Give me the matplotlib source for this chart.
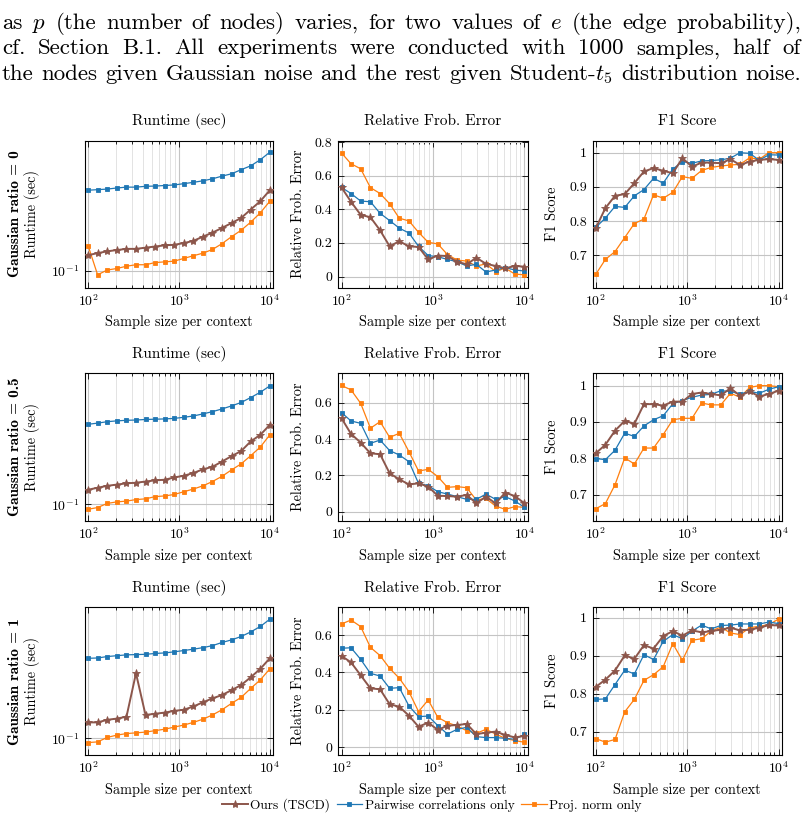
"""Runtime / relative Frobenius error / F1 vs. sample size, three Gaussian ratios."""

import matplotlib

matplotlib.use("Agg")
import matplotlib.pyplot as plt
from matplotlib.lines import Line2D
from matplotlib.ticker import (
    FuncFormatter,
    LogFormatterSciNotation,
    LogLocator,
    MultipleLocator,
    NullFormatter,
    NullLocator,
)

plt.rcParams.update(
    {
        "font.family": "serif",
        "font.serif": ["cmr10"],
        "mathtext.fontset": "cm",
        "axes.formatter.use_mathtext": True,
    }
)

W, H = 805, 819

SAMPLE_SIZES = [100, 127, 162, 207, 264, 336, 428, 546, 695, 886,
                1129, 1438, 1833, 2336, 2976, 3793, 4833, 6158, 7848, 10000]

RATIO_LABELS = ["0", "0.5", "1"]
METRIC_TITLES = ["Runtime (sec)", "Relative Frob. Error", "F1 Score"]
SERIES_NAMES = ["Ours (TSCD)", "Pairwise correlations only", "Proj. norm only"]

# runtime (sec)
RT0_OURS = [0.122, 0.125, 0.128, 0.130, 0.132, 0.132, 0.134, 0.136, 0.138, 0.139,
            0.142, 0.146, 0.154, 0.162, 0.172, 0.183, 0.195, 0.217, 0.241, 0.277]
RT0_PAIR = [0.277, 0.279, 0.281, 0.285, 0.288, 0.288, 0.291, 0.292, 0.294, 0.296,
            0.301, 0.306, 0.312, 0.320, 0.331, 0.341, 0.359, 0.377, 0.407, 0.448]
RT0_PROJ = [0.137, 0.0951, 0.101, 0.103, 0.106, 0.108, 0.108, 0.111, 0.112, 0.113,
            0.117, 0.121, 0.125, 0.131, 0.141, 0.154, 0.167, 0.185, 0.208, 0.241]
RT1_OURS = [0.120, 0.123, 0.126, 0.128, 0.130, 0.131, 0.133, 0.135, 0.136, 0.140,
            0.143, 0.148, 0.155, 0.160, 0.171, 0.183, 0.195, 0.220, 0.239, 0.271]
RT1_PAIR = [0.273, 0.277, 0.282, 0.285, 0.287, 0.288, 0.290, 0.291, 0.292, 0.294,
            0.298, 0.303, 0.311, 0.320, 0.331, 0.344, 0.359, 0.382, 0.408, 0.442]
RT1_PROJ = [0.0939, 0.0959, 0.101, 0.103, 0.104, 0.106, 0.107, 0.110, 0.111, 0.113,
            0.117, 0.121, 0.126, 0.133, 0.142, 0.154, 0.166, 0.184, 0.205, 0.239]
RT2_OURS = [0.122, 0.122, 0.126, 0.128, 0.131, 0.226, 0.134, 0.136, 0.138, 0.141,
            0.143, 0.149, 0.157, 0.165, 0.172, 0.183, 0.195, 0.215, 0.239, 0.273]
RT2_PAIR = [0.273, 0.274, 0.279, 0.282, 0.285, 0.286, 0.287, 0.290, 0.292, 0.296,
            0.301, 0.306, 0.312, 0.320, 0.333, 0.344, 0.359, 0.380, 0.407, 0.446]
RT2_PROJ = [0.0947, 0.0955, 0.101, 0.104, 0.106, 0.107, 0.108, 0.110, 0.112, 0.115,
            0.118, 0.122, 0.127, 0.134, 0.143, 0.155, 0.167, 0.187, 0.208, 0.239]

# relative Frobenius error
FE0_OURS = [0.530, 0.445, 0.367, 0.353, 0.275, 0.180, 0.210, 0.180, 0.176, 0.102,
            0.125, 0.122, 0.088, 0.073, 0.112, 0.076, 0.063, 0.049, 0.063, 0.059]
FE0_PAIR = [0.530, 0.494, 0.449, 0.445, 0.376, 0.333, 0.288, 0.259, 0.180, 0.125,
            0.118, 0.102, 0.088, 0.063, 0.073, 0.027, 0.039, 0.053, 0.039, 0.033]
FE0_PROJ = [0.735, 0.671, 0.641, 0.529, 0.494, 0.433, 0.347, 0.331, 0.263, 0.204,
            0.194, 0.131, 0.098, 0.092, 0.063, 0.075, 0.030, 0.050, 0.015, 0.010]
FE1_OURS = [0.514, 0.428, 0.380, 0.321, 0.316, 0.211, 0.178, 0.150, 0.156, 0.138,
            0.088, 0.086, 0.083, 0.092, 0.046, 0.083, 0.046, 0.105, 0.086, 0.046]
FE1_PAIR = [0.545, 0.499, 0.486, 0.376, 0.394, 0.336, 0.312, 0.275, 0.156, 0.143,
            0.110, 0.097, 0.083, 0.068, 0.068, 0.097, 0.068, 0.083, 0.059, 0.024]
FE1_PROJ = [0.694, 0.670, 0.596, 0.459, 0.495, 0.409, 0.431, 0.330, 0.224, 0.233,
            0.193, 0.134, 0.138, 0.132, 0.064, 0.073, 0.031, 0.013, 0.028, 0.024]
FE2_OURS = [0.488, 0.454, 0.385, 0.315, 0.310, 0.230, 0.217, 0.169, 0.110, 0.132,
            0.093, 0.116, 0.119, 0.125, 0.071, 0.078, 0.084, 0.066, 0.053, 0.061]
FE2_PAIR = [0.529, 0.532, 0.470, 0.395, 0.381, 0.315, 0.319, 0.221, 0.164, 0.167,
            0.116, 0.071, 0.096, 0.107, 0.057, 0.052, 0.052, 0.048, 0.043, 0.069]
FE2_PROJ = [0.659, 0.680, 0.645, 0.534, 0.490, 0.422, 0.369, 0.297, 0.191, 0.253,
            0.160, 0.132, 0.114, 0.089, 0.075, 0.096, 0.071, 0.048, 0.036, 0.027]

# F1 score
F10_OURS = [0.780, 0.838, 0.874, 0.879, 0.911, 0.945, 0.955, 0.947, 0.940, 0.984,
            0.959, 0.971, 0.971, 0.969, 0.981, 0.964, 0.974, 0.979, 0.981, 0.979]
F10_PAIR = [0.782, 0.809, 0.843, 0.840, 0.874, 0.892, 0.925, 0.911, 0.952, 0.974,
            0.969, 0.976, 0.977, 0.979, 0.984, 1.000, 0.998, 0.978, 0.994, 0.993]
F10_PROJ = [0.645, 0.688, 0.711, 0.752, 0.793, 0.806, 0.877, 0.867, 0.884, 0.930,
            0.925, 0.948, 0.957, 0.961, 0.964, 0.966, 0.985, 0.981, 1.000, 1.000]
F11_OURS = [0.814, 0.837, 0.876, 0.903, 0.895, 0.949, 0.949, 0.945, 0.956, 0.956,
            0.977, 0.981, 0.977, 0.973, 0.993, 0.972, 0.984, 0.970, 0.977, 0.986]
F11_PAIR = [0.799, 0.796, 0.822, 0.869, 0.860, 0.889, 0.906, 0.917, 0.950, 0.959,
            0.968, 0.974, 0.976, 0.986, 0.984, 0.977, 0.984, 0.979, 0.990, 0.997]
F11_PROJ = [0.661, 0.675, 0.727, 0.801, 0.784, 0.828, 0.828, 0.865, 0.906, 0.910,
            0.910, 0.952, 0.947, 0.947, 0.979, 0.968, 0.995, 1.000, 1.000, 0.997]
F12_OURS = [0.818, 0.837, 0.861, 0.901, 0.892, 0.928, 0.919, 0.952, 0.965, 0.953,
            0.967, 0.962, 0.965, 0.969, 0.974, 0.967, 0.969, 0.974, 0.981, 0.980]
F12_PAIR = [0.785, 0.786, 0.824, 0.862, 0.852, 0.903, 0.890, 0.938, 0.956, 0.945,
            0.965, 0.981, 0.971, 0.980, 0.981, 0.984, 0.984, 0.984, 0.989, 0.985]
F12_PROJ = [0.681, 0.672, 0.679, 0.752, 0.785, 0.835, 0.850, 0.871, 0.932, 0.888,
            0.941, 0.945, 0.965, 0.976, 0.960, 0.956, 0.974, 0.978, 0.982, 0.997]

CAPTION_LINES = [
    "as $p$ (the number of nodes) varies, for two values of $e$ (the edge probability),",
    "cf. Section B.1. All experiments were conducted with 1000 samples, half of",
    "the nodes given Gaussian noise and the rest given Student-$t_5$ distribution noise.",
]
CAPTION_BASELINES = [29, 54.5, 80]

# panel grid [row][col] -> (ours, pairwise, proj)
PANELS = [
    [(RT0_OURS, RT0_PAIR, RT0_PROJ), (FE0_OURS, FE0_PAIR, FE0_PROJ), (F10_OURS, F10_PAIR, F10_PROJ)],
    [(RT1_OURS, RT1_PAIR, RT1_PROJ), (FE1_OURS, FE1_PAIR, FE1_PROJ), (F11_OURS, F11_PAIR, F11_PROJ)],
    [(RT2_OURS, RT2_PAIR, RT2_PROJ), (FE2_OURS, FE2_PAIR, FE2_PROJ), (F12_OURS, F12_PAIR, F12_PROJ)],
]

# layout (pixels) and styling
COL_LEFT = [85, 338.3, 592.7]
COL_RIGHT = [273, 527.7, 781.7]
ROW_TOP = [140.7, 373.3, 607.3]
ROW_BOT = [287.5, 521, 755]
YLIMS = [
    [(0.081, 0.518), (-0.065, 0.808), (0.606, 1.035)],
    [(0.081, 0.518), (-0.051, 0.761), (0.627, 1.034)],
    [(0.081, 0.518), (-0.041, 0.748), (0.638, 1.028)],
]
YLABEL_X = [-0.282, -0.211, -0.217]
COLORS = ["#8c564b", "#1f77b4", "#ff7f0e"]
MARKERS = ["*", "s", "s"]
MARKER_SIZES = [6, 3.4, 3.4]
LINE_WIDTHS = [1.4, 0.9, 0.9]


def justified_line(fig, text, baseline_px, x0_px, x1_px, size):
    words = text.split(" ")
    renderer = fig.canvas.get_renderer()
    artists = [fig.text(0, 1 - baseline_px / H, w, fontsize=size, va="baseline") for w in words]
    widths = [a.get_window_extent(renderer).width for a in artists]
    gap = (x1_px - x0_px - sum(widths)) / (len(words) - 1)
    x = x0_px
    for artist, width in zip(artists, widths):
        artist.set_x(x / W)
        x += width + gap


def style_axes(ax, col, ylim):
    ax.set_xscale("log")
    ax.set_xlim(10 ** 1.965, 10 ** 4.035)
    ax.set_ylim(*ylim)
    ax.xaxis.set_major_locator(LogLocator(base=10))
    ax.xaxis.set_minor_locator(LogLocator(base=10, subs=range(2, 10)))
    ax.xaxis.set_minor_formatter(NullFormatter())
    if col == 0:
        ax.set_yscale("log")
        ax.yaxis.set_major_locator(LogLocator(base=10))
        ax.yaxis.set_major_formatter(LogFormatterSciNotation())
    else:
        ax.yaxis.set_major_locator(MultipleLocator(0.2 if col == 1 else 0.1))
        ax.yaxis.set_major_formatter(FuncFormatter(lambda v, _: f"{v:g}"))
    ax.yaxis.set_minor_locator(NullLocator())
    ax.yaxis.set_minor_formatter(NullFormatter())
    ax.tick_params(which="both", direction="in", top=True, right=True, width=0.6, labelsize=10)
    ax.tick_params(which="major", length=4, pad=4)
    ax.tick_params(which="minor", length=2)
    ax.grid(True, which="major", color="#c4c4c4", linewidth=0.8)
    ax.grid(True, which="minor", axis="x", color="#dedede", linewidth=0.6)
    ax.set_axisbelow(True)
    for spine in ax.spines.values():
        spine.set_linewidth(0.8)


def main():
    fig = plt.figure(figsize=(W / 100, H / 100), dpi=100)

    for line, baseline in zip(CAPTION_LINES, CAPTION_BASELINES):
        justified_line(fig, line, baseline, 2, 801, 16.5)

    for row in range(3):
        for col in range(3):
            l, r = COL_LEFT[col], COL_RIGHT[col]
            t, b = ROW_TOP[row], ROW_BOT[row]
            ax = fig.add_axes([l / W, 1 - b / H, (r - l) / W, (b - t) / H])
            series = PANELS[row][col]
            for k in (2, 1, 0):
                ax.plot(SAMPLE_SIZES, series[k], color=COLORS[k], marker=MARKERS[k],
                        markersize=MARKER_SIZES[k], linewidth=LINE_WIDTHS[k],
                        markeredgewidth=0.6, zorder=3 + (2 - k))
            style_axes(ax, col, YLIMS[row][col])
            ax.set_title(METRIC_TITLES[col], fontsize=11, pad=11)
            ax.text(0.5, -0.238, "Sample size per context", transform=ax.transAxes,
                    ha="center", va="center", fontsize=10.3)
            ax.text(YLABEL_X[col], 0.5, METRIC_TITLES[col], transform=ax.transAxes,
                    ha="center", va="center", rotation=90, fontsize=10.3)
            if col == 0:
                fig.text(15 / W, 1 - (t + b) / 2 / H, f"Gaussian ratio = {RATIO_LABELS[row]}",
                         family="cmb10", fontsize=11, rotation=90, ha="center", va="center")

    handles = [
        Line2D([], [], color=COLORS[k], marker=MARKERS[k], markersize=MARKER_SIZES[k],
               linewidth=LINE_WIDTHS[k], markeredgewidth=0.6)
        for k in range(3)
    ]
    fig.legend(handles, SERIES_NAMES, loc="center", bbox_to_anchor=(432 / W, 1 - 805 / H),
               ncol=3, frameon=False, fontsize=9.6, handlelength=1.9, handletextpad=0.2,
               columnspacing=0.5, borderpad=0)

    fig.savefig("out.png", dpi=100)


if __name__ == "__main__":
    main()
